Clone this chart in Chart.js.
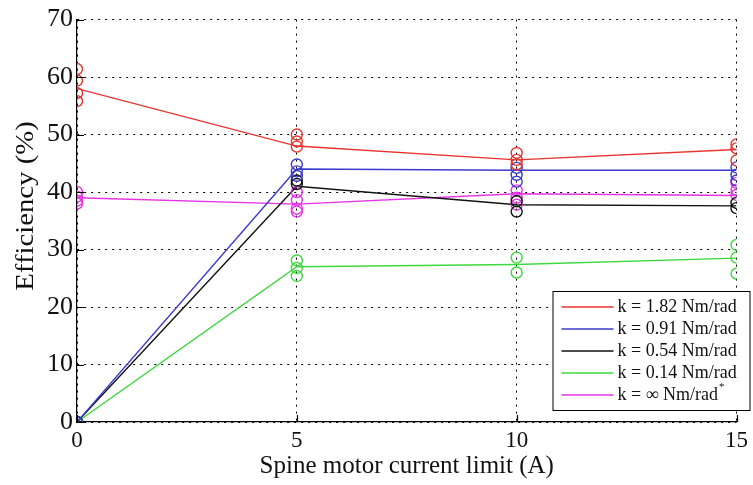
<!DOCTYPE html>
<html>
<head>
<meta charset="utf-8">
<script src="https://cdn.jsdelivr.net/npm/chart.js@4.4.1/dist/chart.umd.min.js"></script>
<style>
  html, body { margin: 0; padding: 0; background: #fff; }
  #wrap { width: 753px; height: 485px; }
</style>
</head>
<body>
<div id="wrap"><canvas id="effChart" width="753" height="485"></canvas></div>
<script>
const currents = [0, 5, 10, 15];
const xTicks = [0, 5, 10, 15];
const yTicks = [0, 10, 20, 30, 40, 50, 60, 70];
const seriesLabels = ['k = 1.82 Nm/rad', 'k = 0.91 Nm/rad', 'k = 0.54 Nm/rad', 'k = 0.14 Nm/rad', 'k = \u221E Nm/rad'];
const seriesColors = ['#e8342e', '#3b3bcc', '#111111', '#3ed83e', '#e633e6'];

// mean efficiency per current limit
const meanK182 = [58, 48, 45.6, 47.4];
const meanK091 = [0, 44, 43.8, 43.8];
const meanK054 = [0, 41, 37.8, 37.6];
const meanK014 = [0, 27, 27.4, 28.5];
const meanKinf = [39, 37.9, 39.7, 39.4];

// individual trials per current limit
const trialsK182 = [[61.4, 59.4, 57.2, 55.8], [50, 48.8, 47.9], [46.8, 45.6, 44.8], [48.3, 47.6, 45.5]];
const trialsK091 = [[0], [44.8, 43.6, 42.8], [44.2, 43, 41.8], [44.3, 43, 42]];
const trialsK054 = [[0], [42, 41.4], [38.4, 36.6], [38.1, 37.2]];
const trialsK014 = [[0], [28.1, 26.8, 25.4], [28.6, 26], [30.8, 28.6, 25.8]];
const trialsKinf = [[40, 39.2, 38.5, 38], [40, 38.6, 37.1, 36.6], [40.3, 39, 37.8], [41.6, 40.4, 39.5]];

const means = [meanK182, meanK091, meanK054, meanK014, meanKinf];
const trials = [trialsK182, trialsK091, trialsK054, trialsK014, trialsKinf];

const lineSets = means.map((m, i) => ({
  label: seriesLabels[i],
  data: currents.map((c, j) => ({ x: c, y: m[j] })),
  showLine: true,
  borderColor: seriesColors[i],
  borderWidth: 1.4,
  pointRadius: 0,
  fill: false,
  order: 2
}));

const trialSets = trials.map((t, i) => ({
  label: seriesLabels[i] + ' trials',
  data: currents.flatMap((c, j) => t[j].map(v => ({ x: c, y: v }))),
  showLine: false,
  borderColor: seriesColors[i],
  backgroundColor: 'rgba(0,0,0,0)',
  pointStyle: 'circle',
  pointRadius: 5.5,
  pointBorderWidth: 1.4,
  order: 1
}));

const serif = "'Liberation Serif', 'Times New Roman', serif";

// inward MATLAB ticks + y label drawn a bit above centre
const axisExtras = {
  id: 'axisExtras',
  afterDraw(chart) {
    const ctx = chart.ctx;
    const { x, y } = chart.scales;
    const area = chart.chartArea;
    ctx.save();
    ctx.strokeStyle = '#000';
    ctx.lineWidth = 1.2;
    ctx.beginPath();
    yTicks.forEach(v => {
      const py = Math.round(y.getPixelForValue(v)) + 0.5;
      ctx.moveTo(area.left, py);
      ctx.lineTo(area.left + 7, py);
    });
    xTicks.forEach(v => {
      const px = Math.round(x.getPixelForValue(v)) + 0.5;
      ctx.moveTo(px, area.bottom);
      ctx.lineTo(px, area.bottom - 7);
    });
    ctx.stroke();

    ctx.translate(26, 206);
    ctx.rotate(-Math.PI / 2);
    ctx.scale(1.15, 1);
    ctx.font = '25px ' + serif;
    ctx.fillStyle = '#111';
    ctx.textAlign = 'center';
    ctx.textBaseline = 'middle';
    ctx.fillText('Efficiency (%)', 0, 0);
    ctx.restore();
  }
};

// MATLAB style legend box inside the plot
const boxLegend = {
  id: 'boxLegend',
  afterDraw(chart) {
    const ctx = chart.ctx;
    const area = chart.chartArea;
    const x0 = area.right - 184, y0 = area.bottom - 131;
    const w = 197, h = 119;
    ctx.save();
    ctx.fillStyle = '#fff';
    ctx.fillRect(x0, y0, w, h);
    ctx.strokeStyle = '#000';
    ctx.lineWidth = 1;
    ctx.strokeRect(x0 + 0.5, y0 + 0.5, w, h);
    ctx.font = '18px ' + serif;
    ctx.textBaseline = 'middle';
    seriesLabels.forEach((lab, i) => {
      const y = y0 + 16 + i * 22;
      ctx.strokeStyle = seriesColors[i];
      ctx.lineWidth = 1.3;
      ctx.beginPath();
      ctx.moveTo(x0 + 9, y);
      ctx.lineTo(x0 + 61, y);
      ctx.stroke();
      ctx.fillStyle = '#111';
      ctx.font = '18px ' + serif;
      ctx.fillText(lab, x0 + 65, y);
      if (i === seriesLabels.length - 1) {
        const tw = ctx.measureText(lab).width;
        ctx.font = '11px ' + serif;
        ctx.fillText('*', x0 + 66 + tw, y - 8);
      }
    });
    ctx.restore();
  }
};

new Chart('effChart', {
  type: 'scatter',
  data: { datasets: [...lineSets, ...trialSets] },
  options: {
    responsive: false,
    animation: false,
    layout: { padding: { top: 14, right: 16, left: 0, bottom: 0 } },
    plugins: {
      legend: { display: false },
      tooltip: { enabled: false }
    },
    scales: {
      x: {
        type: 'linear',
        min: 0,
        max: 15,
        afterBuildTicks: s => { s.ticks = xTicks.map(v => ({ value: v })); },
        afterFit: s => { s.height = 63; },
        grid: { color: '#000', lineWidth: 1, drawTicks: false },
        border: { display: true, color: '#000', width: 1.2, dash: [2, 5] },
        ticks: { color: '#111', padding: 5, font: { family: serif, size: 23 } },
        title: {
          display: true,
          text: 'Spine motor current limit (A)',
          color: '#111',
          font: { family: serif, size: 25 },
          padding: { top: 0, bottom: 4 }
        }
      },
      y: {
        type: 'linear',
        min: 0,
        max: 70,
        afterBuildTicks: s => { s.ticks = yTicks.map(v => ({ value: v })); },
        afterFit: s => { s.width = 77; },
        grid: { color: '#000', lineWidth: 1, drawTicks: false },
        border: { display: true, color: '#000', width: 1.2, dash: [2, 5] },
        ticks: { color: '#111', padding: 4, font: { family: serif, size: 26 } },
        title: { display: false }
      }
    }
  },
  plugins: [axisExtras, boxLegend]
});
</script>
</body>
</html>
